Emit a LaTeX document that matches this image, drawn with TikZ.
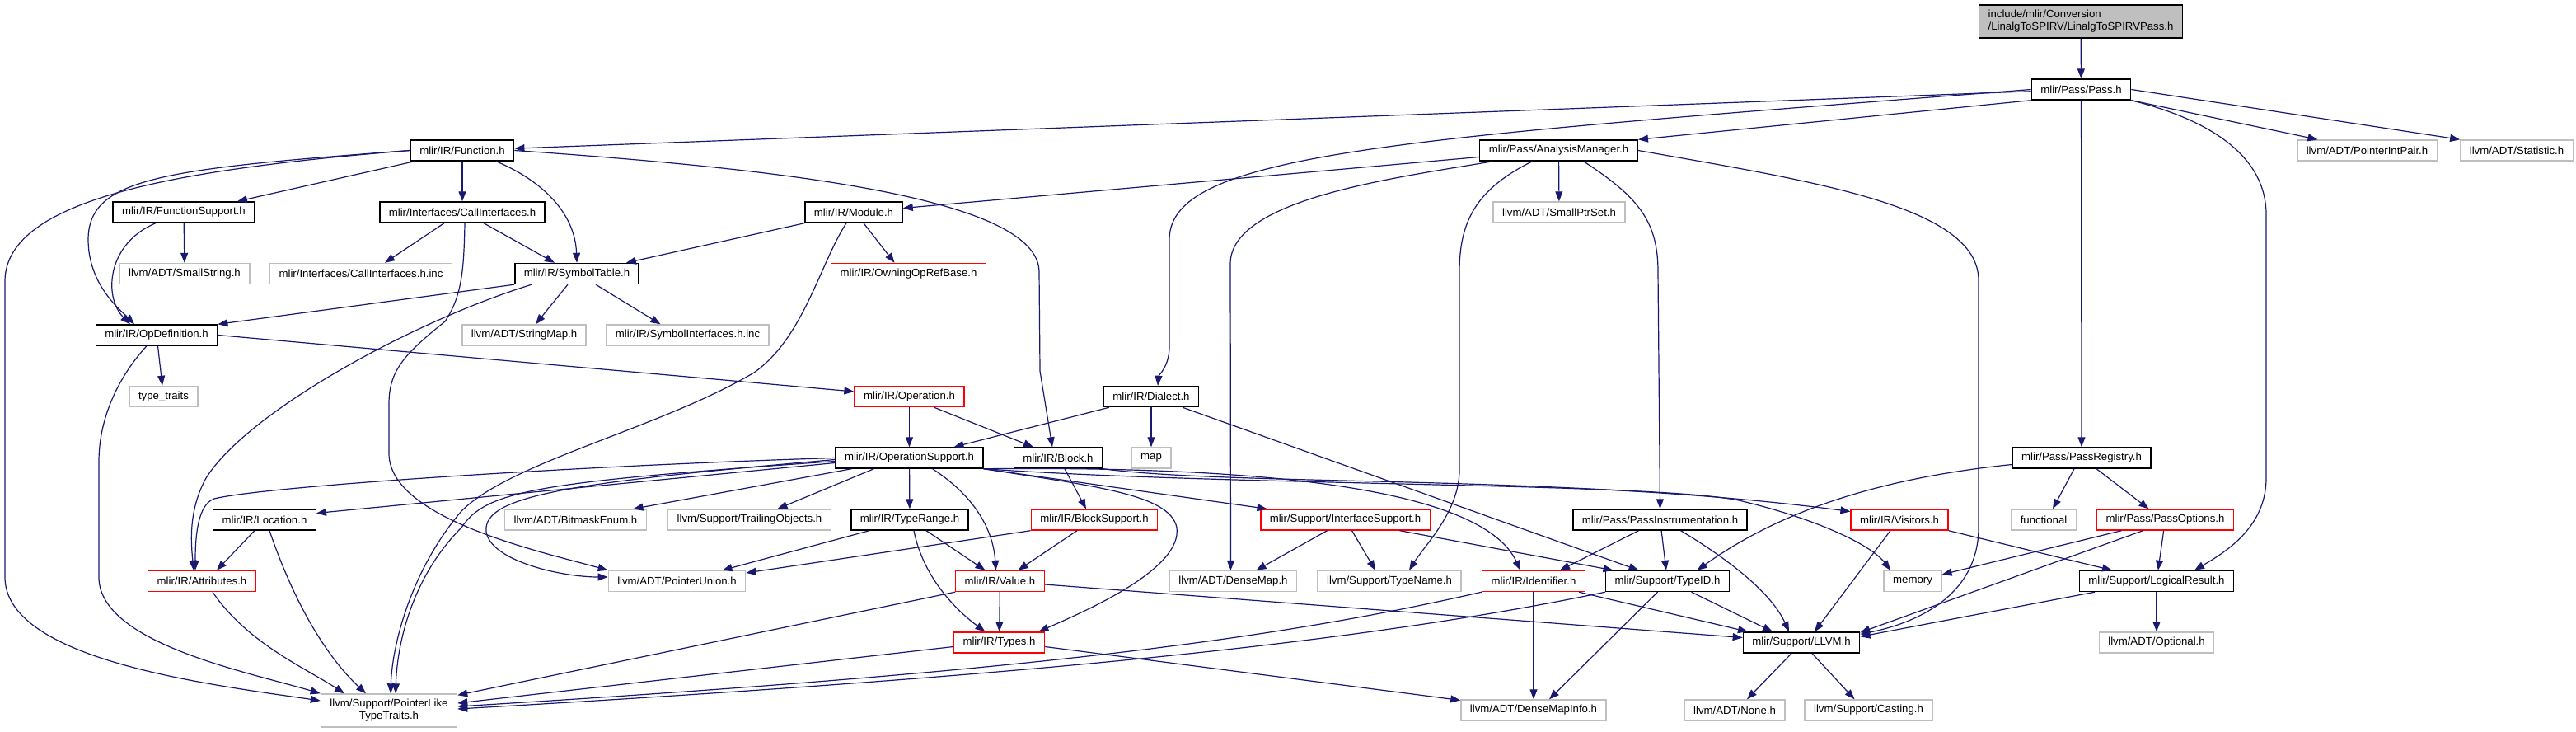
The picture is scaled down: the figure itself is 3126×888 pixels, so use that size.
\documentclass[tikz,border=0pt]{standalone}
\usepackage{fontspec}
\setmainfont{Liberation Sans}
\usetikzlibrary{arrows.meta}
\definecolor{edgeblue}{HTML}{191970}
\definecolor{grey75}{HTML}{BFBFBF}
\begin{document}
\begin{tikzpicture}[x=1pt,y=-1pt,
  box/.style={rectangle, line width=1.4pt, inner xsep=11pt, inner ysep=0pt, minimum height=25pt,
    font=\fontsize{13.2pt}{15pt}\selectfont, text=black, fill=white},
  blk/.style={box, draw=black},
  gry/.style={box, draw=grey75},
  rednode/.style={box, draw=red},
  topn/.style={box, draw=black, fill=grey75, minimum height=40pt, align=left},
  dep/.style={draw=edgeblue, line width=1.2pt, -{Triangle[length=12pt,width=9pt]}},
]
\fill[white] (0,0) rectangle (3126,888);
\useasboundingbox (0,0) rectangle (3126,888);

% nodes
\node[topn] (top) at (2525,26) {include/mlir/Conversion\\/LinalgToSPIRV/LinalgToSPIRVPass.h};
\node[blk] (pass) at (2525.5,108.5) {mlir/Pass/Pass.h};
\node[blk] (function) at (561,182.5) {mlir/IR/Function.h};
\node[blk] (analysis) at (1891.5,182.5) {mlir/Pass/AnalysisManager.h};
\node[gry] (pip) at (2872.5,182.5) {llvm/ADT/PointerIntPair.h};
\node[gry] (statistic) at (3054,182.5) {llvm/ADT/Statistic.h};
\node[blk] (funcsupport) at (223,257.5) {mlir/IR/FunctionSupport.h};
\node[blk] (callif) at (561,257.5) {mlir/Interfaces/CallInterfaces.h};
\node[blk] (module) at (1036,257.5) {mlir/IR/Module.h};
\node[gry] (smallptrset) at (1892,257.5) {llvm/ADT/SmallPtrSet.h};
\node[gry] (smallstring) at (224,332) {llvm/ADT/SmallString.h};
\node[gry] (callinc) at (438,332) {mlir/Interfaces/CallInterfaces.h.inc};
\node[blk] (symtab) at (700,332) {mlir/IR/SymbolTable.h};
\node[rednode] (owning) at (1102.5,332) {mlir/IR/OwningOpRefBase.h};
\node[blk] (opdef) at (190,406.5) {mlir/IR/OpDefinition.h};
\node[gry] (stringmap) at (636,406.5) {llvm/ADT/StringMap.h};
\node[gry] (symbolinc) at (834.5,406.5) {mlir/IR/SymbolInterfaces.h.inc};
\node[gry] (typetraits) at (198.5,481) {type\_traits};
\node[rednode] (operation) at (1103.5,481) {mlir/IR/Operation.h};
\node[blk] (dialect) at (1397,481) {mlir/IR/Dialect.h};
\node[blk] (opsupport) at (1103.5,555.5) {mlir/IR/OperationSupport.h};
\node[blk] (block) at (1284,555.5) {mlir/IR/Block.h};
\node[gry] (map) at (1397,555.5) {map};
\node[blk] (passreg) at (2526,555.5) {mlir/Pass/PassRegistry.h};
\node[blk] (location) at (321,630.5) {mlir/IR/Location.h};
\node[gry] (bitmask) at (698.5,630.5) {llvm/ADT/BitmaskEnum.h};
\node[gry] (trailing) at (909.5,630.5) {llvm/Support/TrailingObjects.h};
\node[blk] (typerange) at (1104,630.5) {mlir/IR/TypeRange.h};
\node[rednode] (blocksupport) at (1328,630.5) {mlir/IR/BlockSupport.h};
\node[rednode] (ifsupport) at (1632.5,630.5) {mlir/Support/InterfaceSupport.h};
\node[blk] (passinstr) at (2014.5,630.5) {mlir/Pass/PassInstrumentation.h};
\node[rednode] (visitors) at (2305,630.5) {mlir/IR/Visitors.h};
\node[gry] (functional) at (2480,630.5) {functional};
\node[rednode] (passopts) at (2627.5,630.5) {mlir/Pass/PassOptions.h};
\node[rednode] (attributes) at (245,705) {mlir/IR/Attributes.h};
\node[gry] (ptrunion) at (821.5,705) {llvm/ADT/PointerUnion.h};
\node[rednode] (value) at (1213.5,705) {mlir/IR/Value.h};
\node[gry] (densemap) at (1496.5,705) {llvm/ADT/DenseMap.h};
\node[gry] (typenameh) at (1686,705) {llvm/Support/TypeName.h};
\node[rednode] (identifier) at (1861,705) {mlir/IR/Identifier.h};
\node[blk] (typeid) at (2023.5,705) {mlir/Support/TypeID.h};
\node[gry] (memory) at (2321,705) {memory};
\node[blk] (logicalres) at (2617,705) {mlir/Support/LogicalResult.h};
\node[rednode] (types) at (1212.5,779.5) {mlir/IR/Types.h};
\node[blk] (llvm) at (2186,779.5) {mlir/Support/LLVM.h};
\node[gry] (optional) at (2617,779.5) {llvm/ADT/Optional.h};
\node[gry, minimum height=40pt, align=center] (ptrlike) at (472,862) {llvm/Support/PointerLike\\TypeTraits.h};
\node[gry] (densemapinfo) at (1861,861.5) {llvm/ADT/DenseMapInfo.h};
\node[gry] (noneh) at (2105,861.5) {llvm/ADT/None.h};
\node[gry] (casting) at (2267.5,861.5) {llvm/Support/Casting.h};

% edges: top / pass
\draw[dep] (top) -- (pass);
\draw[dep] (pass) -- (function);
\draw[dep] (pass.south west) -- (analysis.north east);
\draw[dep] (pass.west) .. controls (1700,168) and (1420,185) .. (1419,290) -- (1419,420) .. controls (1419,445) and (1406,455) .. ([xshift=8pt]dialect.north);
\draw[dep] (pass) -- (passreg);
\draw[dep] (pass.south east) -- ([xshift=-60pt]pip.north);
\draw[dep] (pass.east) -- (statistic.north west);
\draw[dep] (pass.south east) .. controls (2700,150) and (2750,200) .. (2750,260) -- (2750,580) .. controls (2750,640) and (2700,670) .. ([xshift=46pt]logicalres.north);

% function
\draw[dep] ([xshift=-58pt]function.south) -- ([xshift=65pt]funcsupport.north);
\draw[dep] (function) -- (callif);
\draw[dep] ([xshift=41pt]function.south) .. controls (660,220) and (698,260) .. (symtab.north);
\draw[dep] (function.west) .. controls (200,205) and (108,215) .. (107,290) .. controls (107,345) and (145,375) .. ([xshift=-27pt]opdef.north);
\draw[dep] (function.west) .. controls (220,205) and (8,240) .. (6,340) -- (6,700) .. controls (6,800) and (250,830) .. ([yshift=12pt]ptrlike.west);
\draw[dep] (function.east) .. controls (950,205) and (1261,240) .. (1261,330) -- (1262,450) -- ([xshift=-7pt]block.north);

% function support, call interfaces
\draw[dep] (funcsupport) -- (smallstring);
\draw[dep] ([xshift=-34pt]funcsupport.south) .. controls (130,295) and (125,360) .. ([xshift=-32pt]opdef.north);
\draw[dep] ([xshift=-22pt]callif.south) -- ([xshift=29pt]callinc.north);
\draw[dep] ([xshift=26pt]callif.south) -- ([xshift=-27pt]symtab.north);
\draw[dep] ([xshift=3pt]callif.south) .. controls (563,330) and (560,360) .. (540,390) .. controls (490,430) and (472,450) .. (472,490) -- (472,550) .. controls (472,630) and (660,670) .. (ptrunion.north west);

% analysis manager
\draw[dep] ([yshift=-8pt]analysis.west) -- ([yshift=5pt]module.east);
\draw[dep] (analysis) -- (smallptrset);
\draw[dep] ([xshift=-80pt]analysis.south) .. controls (1700,215) and (1493,240) .. (1493,320) -- ([xshift=-3pt]densemap.north);
\draw[dep] ([xshift=-32pt]analysis.south) .. controls (1790,230) and (1771,270) .. (1771,330) -- (1771,570) .. controls (1771,620) and (1730,660) .. ([xshift=24pt]typenameh.north);
\draw[dep] ([xshift=30pt]analysis.south) .. controls (1990,240) and (2012,270) .. (2012,330) -- (passinstr.north);
\draw[dep] (analysis.east) .. controls (2200,220) and (2401,250) .. (2401,340) -- (2401,640) .. controls (2401,720) and (2330,755) .. ([yshift=-3pt]llvm.north east);

% module
\draw[dep] (module.south west) -- ([xshift=-16pt]symtab.north east);
\draw[dep] ([xshift=12pt]module.south) -- ([xshift=-17pt]owning.north);
\draw[dep] ([xshift=-9pt]module.south) .. controls (995,320) and (975,410) .. (915,452) .. controls (800,520) and (620,560) .. (560,620) .. controls (500,690) and (476,780) .. ([xshift=2pt]ptrlike.north);

% symbol table
\draw[dep] (symtab.south west) -- (opdef.north east);
\draw[dep] ([xshift=-11pt]symtab.south) -- ([xshift=14pt]stringmap.north);
\draw[dep] ([xshift=23pt]symtab.south) -- ([xshift=-33pt]symbolinc.north);
\draw[dep] ([xshift=-55pt]symtab.south) .. controls (500,390) and (300,500) .. (250,580) .. controls (228,620) and (232,660) .. ([xshift=-10pt]attributes.north);

% op definition, operation, dialect
\draw[dep] (opdef) -- (typetraits);
\draw[dep] ([xshift=-12pt]opdef.south) .. controls (150,450) and (120,500) .. (120,560) -- (120,700) .. controls (120,780) and (300,815) .. (ptrlike.north west);
\draw[dep] (opdef.east) -- ([yshift=6pt]operation.west);
\draw[dep] (operation) -- (opsupport);
\draw[dep] ([xshift=30pt]operation.south) -- ([xshift=-30pt]block.north);
\draw[dep] ([xshift=-51pt]dialect.south) -- ([xshift=54pt]opsupport.north);
\draw[dep] (dialect) -- (map);
\draw[dep] ([xshift=38pt]dialect.south) -- ([xshift=-35pt]typeid.north);

% block
\draw[dep] ([xshift=8pt]block.south) -- ([xshift=-10pt]blocksupport.north);
\draw[dep] (block.south east) .. controls (1500,590) and (1900,575) .. ([yshift=10pt]visitors.west);

% operation support
\draw[dep] (opsupport.south east) .. controls (1500,590) and (2000,585) .. (2110,607) .. controls (2200,628) and (2270,660) .. ([xshift=-27pt]memory.north);
\draw[dep] (opsupport.south east) .. controls (1550,565) and (1800,595) .. ([xshift=-16pt]identifier.north);
\draw[dep] (opsupport.south east) .. controls (1330,590) and (1420,600) .. (1428,640) .. controls (1435,690) and (1320,740) .. ([xshift=48pt]types.north);
\draw[dep] (opsupport.south east) -- ([xshift=-95pt]ifsupport.north);
\draw[dep] (opsupport.west) .. controls (700,565) and (320,590) .. (260,605) .. controls (240,612) and (237,650) .. ([xshift=-8pt]attributes.north);
\draw[dep] ([yshift=-6pt]opsupport.west) -- ([yshift=8pt]location.east);
\draw[dep] ([yshift=-4pt]opsupport.west) .. controls (650,585) and (590,595) .. (560,640) .. controls (500,700) and (482,780) .. ([xshift=8pt]ptrlike.north);
\draw[dep] ([yshift=-2pt]opsupport.west) .. controls (700,585) and (585,600) .. (590,645) .. controls (595,680) and (680,700) .. ([yshift=5pt]ptrunion.west);
\draw[dep] ([xshift=-70pt]opsupport.south) -- ([xshift=70pt]bitmask.north);
\draw[dep] ([xshift=-43pt]opsupport.south) -- ([xshift=34pt]trailing.north);
\draw[dep] (opsupport) -- (typerange);
\draw[dep] ([xshift=28pt]opsupport.south) .. controls (1180,600) and (1205,640) .. ([xshift=-5pt]value.north);

% type range, block support, location, attributes
\draw[dep] ([xshift=-49pt]typerange.south) -- ([xshift=55pt]ptrunion.north);
\draw[dep] ([xshift=20pt]typerange.south) -- ([xshift=-18pt]value.north);
\draw[dep] ([xshift=5pt]typerange.south) .. controls (1120,700) and (1160,740) .. ([xshift=-17pt]types.north);
\draw[dep] (blocksupport.south west) -- ([yshift=10pt]ptrunion.east);
\draw[dep] ([xshift=-21pt]blocksupport.south) -- ([xshift=22pt]value.north);
\draw[dep] ([xshift=-12pt]location.south) -- ([xshift=18pt]attributes.north);
\draw[dep] ([xshift=6pt]location.south) .. controls (360,740) and (400,800) .. ([xshift=-28pt]ptrlike.north);
\draw[dep] ([xshift=13pt]attributes.south) .. controls (300,780) and (370,810) .. ([xshift=-54pt]ptrlike.north);

% interface support, pass instrumentation, visitors
\draw[dep] ([xshift=-22pt]ifsupport.south) -- ([xshift=28pt]densemap.north);
\draw[dep] ([xshift=8pt]ifsupport.south) -- ([xshift=-17pt]typenameh.north);
\draw[dep] ([xshift=66pt]ifsupport.south) -- ([xshift=-66pt]typeid.north);
\draw[dep] ([xshift=-26pt]passinstr.south) -- ([xshift=32pt]identifier.north);
\draw[dep] (passinstr) -- (typeid);
\draw[dep] ([xshift=25pt]passinstr.south) .. controls (2100,680) and (2150,720) .. ([xshift=-15pt]llvm.north);
\draw[dep] ([xshift=-11pt]visitors.south) -- ([xshift=16pt]llvm.north);
\draw[dep] (visitors.south east) -- ([xshift=-54pt]logicalres.north);

% pass registry, pass options, logical result
\draw[dep] ([xshift=-9pt]passreg.south) -- ([xshift=11pt]functional.north);
\draw[dep] ([xshift=18pt]passreg.south) -- ([xshift=-20pt]passopts.north);
\draw[dep] ([yshift=-8pt]passreg.west) .. controls (2280,580) and (2160,620) .. ([xshift=36pt]typeid.north);
\draw[dep] ([xshift=-53pt]passopts.south) -- ([yshift=8pt]memory.east);
\draw[dep] ([xshift=-27pt]passopts.south) -- ([yshift=-1pt]llvm.north east);
\draw[dep] (passopts) -- (logicalres);
\draw[dep] (logicalres) -- (optional);
\draw[dep] ([xshift=-75pt]logicalres.south) -- ([yshift=-6pt]llvm.north east);

% value, types, identifier, typeid, llvm
\draw[dep] (value) -- (types);
\draw[dep] ([yshift=-4pt]value.east) -- ([yshift=6pt]llvm.west);
\draw[dep] (value.south west) -- ([yshift=-2pt]ptrlike.north east);
\draw[dep] ([yshift=-5pt]types.west) -- ([yshift=9pt]ptrlike.east);
\draw[dep] ([yshift=-5pt]types.east) -- ([yshift=12pt]densemapinfo.west);
\draw[dep] (identifier) -- (densemapinfo);
\draw[dep] ([xshift=55pt]identifier.south) -- ([xshift=-65pt]llvm.north);
\draw[dep] (identifier.south west) .. controls (1550,775) and (1250,815) .. ([yshift=5pt]ptrlike.east);
\draw[dep] ([xshift=-12pt]typeid.south) -- ([xshift=19pt]densemapinfo.north);
\draw[dep] ([xshift=29pt]typeid.south) -- ([xshift=-35pt]llvm.north);
\draw[dep] (typeid.south west) .. controls (1650,780) and (1250,820) .. ([yshift=2pt]ptrlike.east);
\draw[dep] ([xshift=-12pt]llvm.south) -- ([xshift=15pt]noneh.north);
\draw[dep] ([xshift=13pt]llvm.south) -- ([xshift=-17pt]casting.north);
\end{tikzpicture}
\end{document}
